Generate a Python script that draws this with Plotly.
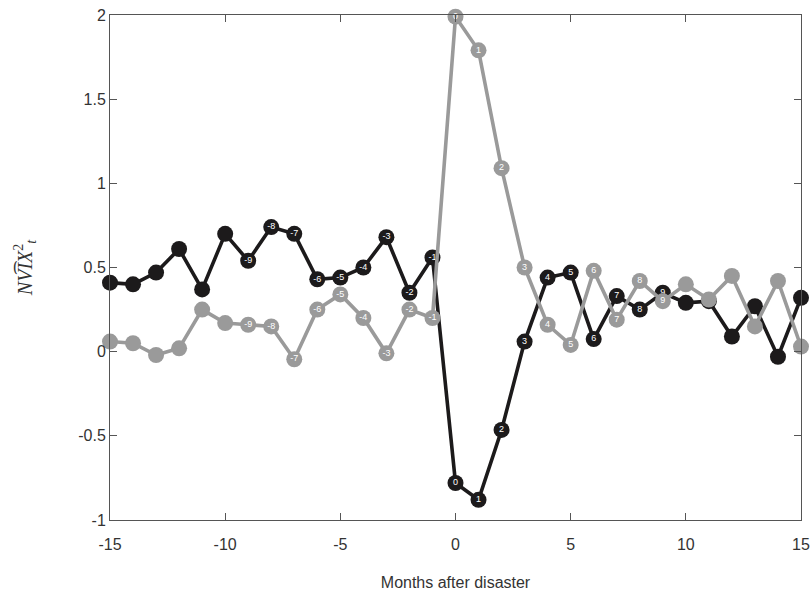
import plotly.graph_objects as go

months = list(range(-15, 16))
black_vals = [0.41, 0.40, 0.47, 0.61, 0.37, 0.70, 0.54, 0.74, 0.70, 0.43, 0.44, 0.50, 0.68, 0.35, 0.56,
              -0.78, -0.88, -0.465, 0.06, 0.44, 0.47, 0.075, 0.33, 0.25, 0.35,
              0.29, 0.30, 0.09, 0.27, -0.03, 0.32]
gray_vals = [0.06, 0.05, -0.02, 0.02, 0.25, 0.17, 0.16, 0.15, -0.045, 0.25, 0.34, 0.20, -0.01, 0.25, 0.20,
             1.99, 1.79, 1.09, 0.50, 0.16, 0.04, 0.48, 0.19, 0.42, 0.30,
             0.40, 0.31, 0.45, 0.15, 0.42, 0.03]
labels = [str(m) if -9 <= m <= 9 else "" for m in months]
x_ticks = [-15, -10, -5, 0, 5, 10, 15]
y_ticks = [-1, -0.5, 0, 0.5, 1, 1.5, 2]
y_tick_text = ["-1", "-0.5", "0", "0.5", "1", "1.5", "2"]

BLACK = "#1c1a1b"
GRAY = "#9a9a9a"

fig = go.Figure()
for vals, col in [(black_vals, BLACK), (gray_vals, GRAY)]:
    fig.add_trace(go.Scatter(
        x=months, y=vals, mode="lines+markers+text",
        line=dict(color=col, width=3.6),
        marker=dict(color=col, size=16),
        text=labels, textposition="middle center",
        textfont=dict(color="white", size=9, family="Liberation Sans"),
        cliponaxis=False, showlegend=False, hoverinfo="x+y",
    ))

axis_common = dict(
    showgrid=False, zeroline=False, showline=True, linecolor="#555555", linewidth=1,
    mirror="ticks", ticks="inside", ticklen=7, tickcolor="#555555", automargin=False,
    ticklabeloverflow="allow",
    tickfont=dict(family="Liberation Sans", size=16, color="#333333"),
)
fig.update_xaxes(range=[-15, 15], tickvals=x_ticks, ticktext=[str(t) for t in x_ticks],
                 ticklabelstandoff=10,
                 title=dict(text="Months after disaster",
                            font=dict(family="Liberation Sans", size=16, color="#333333"),
                            standoff=24),
                 **axis_common)
fig.update_yaxes(range=[-1, 2], tickvals=y_ticks, ticktext=y_tick_text,
                 title=dict(text="<i>NV\u0361IX</i><sup>2</sup><sub><i>t</i></sub>",
                            font=dict(family="Liberation Serif", size=20, color="#333333"),
                            standoff=40),
                 **axis_common)
fig.update_layout(
    width=812, height=599,
    margin=dict(l=110, r=11, t=15, b=79),
    plot_bgcolor="white", paper_bgcolor="white",
)
fig.write_html("out.html", config={"displayModeBar": False},
               post_script="document.body.style.margin='0';document.body.style.padding='0';")
